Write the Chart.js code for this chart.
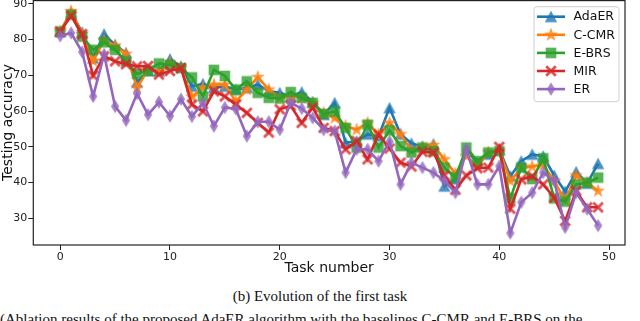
<!DOCTYPE html>
<html>
<head>
<meta charset="utf-8">
<script src="https://cdn.jsdelivr.net/npm/chart.js@4.4.1/dist/chart.umd.min.js"></script>
<style>
  html, body { margin: 0; padding: 0; background: #fff; overflow: hidden; }
  body { width: 640px; height: 321px; position: relative; }
  #accchart { position: absolute; left: 0; top: -10px; }
  .cap { position: absolute; left: 0; width: 640px; text-align: center; font-family: "Liberation Serif", serif; color: #111; white-space: nowrap; }
</style>
</head>
<body>
<canvas id="accchart" width="640" height="287"></canvas>
<div class="cap" style="top: 288px; font-size: 15px;">(b) Evolution of the first task</div>
<div class="cap" style="top: 311px; font-size: 15px; text-align: left; left: 0;">(Ablation results of the proposed AdaER algorithm with the baselines C-CMR and E-BRS on the</div>
<script>
// task index on the x axis
var tasks = [0, 1, 2, 3, 4, 5, 6, 7, 8, 9, 10, 11, 12, 13, 14, 15, 16, 17, 18, 19,
    20, 21, 22, 23, 24, 25, 26, 27, 28, 29, 30, 31, 32, 33, 34, 35, 36, 37, 38, 39,
    40, 41, 42, 43, 44, 45, 46, 47, 48, 49];

var adaER = [82.2, 87.5, 82.0, 74.8, 81.5, 78.5, 76.2, 68.0, 71.2, 71.2,
    74.5, 72.5, 66.9, 67.6, 66.5, 66.9, 66.0, 66.5, 67.4, 65.6,
    65.1, 64.1, 65.3, 62.5, 59.0, 62.3, 51.1, 51.6, 53.5, 53.0,
    60.9, 53.5, 51.0, 50.0, 50.7, 39.0, 41.0, 49.0, 45.6, 47.9,
    49.3, 41.8, 46.0, 47.9, 47.4, 42.0, 37.5, 43.0, 39.8, 45.3];
var cCMR = [82.2, 87.9, 81.5, 74.0, 79.8, 78.3, 76.0, 66.5, 71.5, 71.0,
    73.5, 72.0, 64.0, 66.5, 67.4, 67.4, 62.7, 66.0, 69.5, 66.0,
    63.7, 64.1, 63.7, 62.3, 59.5, 58.1, 55.8, 54.8, 56.7, 53.5,
    56.7, 53.5, 49.0, 50.0, 50.5, 46.5, 42.5, 47.5, 44.5, 48.5,
    49.0, 40.5, 44.0, 44.5, 45.0, 40.5, 35.0, 42.0, 40.0, 37.7];
var eBRS = [82.2, 86.9, 80.8, 77.1, 79.2, 77.1, 73.9, 70.4, 71.3, 73.3,
    72.9, 72.0, 69.4, 64.1, 71.5, 69.8, 66.0, 68.3, 65.1, 63.7,
    63.5, 65.3, 63.7, 62.3, 59.2, 59.9, 55.3, 49.8, 56.2, 49.8,
    54.6, 50.2, 48.4, 49.8, 48.8, 44.2, 41.4, 49.8, 46.0, 48.4,
    48.8, 35.6, 44.2, 41.0, 46.8, 35.6, 34.7, 39.5, 40.0, 41.4];
var mir = [82.2, 86.6, 81.5, 69.9, 75.3, 73.9, 73.1, 72.5, 72.6, 70.2,
    71.2, 72.0, 61.8, 59.9, 65.5, 64.1, 61.8, 59.5, 56.7, 54.0,
    60.5, 61.5, 56.7, 61.0, 55.3, 54.4, 49.3, 51.6, 46.5, 53.5,
    49.5, 45.6, 44.5, 48.6, 48.4, 42.0, 38.0, 42.0, 44.0, 44.2,
    50.0, 32.7, 40.9, 41.8, 39.5, 35.8, 29.3, 37.7, 33.1, 33.1];
var er = [81.0, 81.8, 76.5, 64.1, 75.8, 61.3, 57.4, 64.9, 59.0, 62.5,
    58.6, 63.3, 58.5, 62.3, 55.8, 61.0, 60.6, 53.0, 57.0, 57.0,
    54.8, 62.3, 60.7, 58.1, 54.8, 54.4, 42.8, 49.3, 49.3, 46.0,
    51.5, 39.5, 45.6, 44.2, 42.8, 40.5, 37.2, 49.3, 39.5, 39.5,
    44.6, 25.9, 34.5, 37.2, 42.8, 40.5, 27.5, 37.2, 32.6, 28.0];

var xTicks = [0, 10, 20, 30, 40, 50];
var yTicks = [30, 40, 50, 60, 70, 80, 90];

// little canvases used as point markers (matplotlib-like shapes)
function marker(shape, color) {
    var c = document.createElement('canvas');
    c.width = 16; c.height = 16;
    var g = c.getContext('2d');
    g.translate(8, 8);
    g.fillStyle = color;
    g.globalAlpha = 0.8;
    g.beginPath();
    if (shape == 'tri') {
        g.moveTo(0, -6); g.lineTo(6.2, 5.5); g.lineTo(-6.2, 5.5);
    } else if (shape == 'star') {
        for (var i = 0; i < 10; i++) {
            var r = i % 2 ? 2.9 : 7.3;
            var a = -Math.PI / 2 + i * Math.PI / 5;
            g.lineTo(r * Math.cos(a), r * Math.sin(a));
        }
    } else if (shape == 'sq') {
        g.rect(-5.3, -5.3, 10.6, 10.6);
    } else if (shape == 'x') {
        var p = [[0, -2], [3.8, -5.8], [5.8, -3.8], [2, 0], [5.8, 3.8], [3.8, 5.8],
            [0, 2], [-3.8, 5.8], [-5.8, 3.8], [-2, 0], [-5.8, -3.8], [-3.8, -5.8]];
        p.forEach(function (q) { g.lineTo(q[0], q[1]); });
    } else {
        g.moveTo(0, -6.8); g.lineTo(4.2, 0); g.lineTo(0, 6.8); g.lineTo(-4.2, 0);
    }
    g.closePath();
    g.fill();
    return c;
}

var series = [
    {label: 'AdaER', data: adaER, color: '#1f77b4', shape: 'tri'},
    {label: 'C-CMR', data: cCMR, color: '#ff7f0e', shape: 'star'},
    {label: 'E-BRS', data: eBRS, color: '#2ca02c', shape: 'sq'},
    {label: 'MIR', data: mir, color: '#d62728', shape: 'x'},
    {label: 'ER', data: er, color: '#9467bd', shape: 'dia'}
];
series.forEach(function (s) { s.marker = marker(s.shape, s.color); });

var frame = {
    id: 'frame',
    afterDatasetsDraw: function (chart) {
        var a = chart.chartArea, ctx = chart.ctx;
        ctx.save();
        ctx.strokeStyle = '#222';
        ctx.lineWidth = 1.2;
        ctx.strokeRect(a.left, a.top + 0.6, a.right - a.left, a.bottom - a.top - 0.6);
        ctx.restore();
    }
};

var boxLegend = {
    id: 'boxLegend',
    afterDraw: function (chart) {
        var a = chart.chartArea, ctx = chart.ctx;
        var x0 = a.right - 91, y0 = a.top + 6.7, w = 85, h = 95;
        ctx.save();
        ctx.beginPath();
        ctx.roundRect(x0, y0, w, h, 3);
        ctx.fillStyle = 'rgba(255,255,255,0.85)';
        ctx.fill();
        ctx.strokeStyle = '#d0d0d0';
        ctx.lineWidth = 1;
        ctx.stroke();
        series.forEach(function (s, i) {
            var cy = y0 + 10 + i * 18.1;
            ctx.beginPath();
            ctx.moveTo(x0 + 3, cy);
            ctx.lineTo(x0 + 31, cy);
            ctx.strokeStyle = s.color;
            ctx.lineWidth = 2.6;
            ctx.stroke();
            ctx.drawImage(s.marker, x0 + 17 - 8, cy - 8);
            ctx.fillStyle = '#111';
            ctx.font = '12.5px "DejaVu Sans"';
            ctx.textBaseline = 'middle';
            ctx.textAlign = 'left';
            ctx.fillText(s.label, x0 + 39.5, cy + 0.5);
        });
        ctx.restore();
    }
};

var ctx = document.getElementById('accchart').getContext('2d');
var accchart = new Chart(ctx, {
    type: 'line',
    data: {
        datasets: series.map(function (s, i) {
            return {
                label: s.label,
                data: tasks.map(function (t, j) { return {x: t, y: s.data[j]}; }),
                borderColor: s.color,
                backgroundColor: s.color,
                borderWidth: 2.6,
                pointStyle: s.marker,
                pointRadius: 6,
                tension: 0,
                fill: false,
                order: series.length - i
            };
        })
    },
    options: {
        responsive: false,
        animation: false,
        events: [],
        layout: {padding: {top: 10, right: 15, left: 0, bottom: 0}},
        plugins: {legend: {display: false}, tooltip: {enabled: false}},
        scales: {
            x: {
                type: 'linear',
                min: -2.45,
                max: 51.45,
                afterBuildTicks: function (s) { s.ticks = xTicks.map(function (v) { return {value: v}; }); },
                afterFit: function (s) { s.height = 32; },
                grid: {display: true, drawOnChartArea: false, drawTicks: true, tickLength: 5, color: '#222'},
                border: {display: false},
                ticks: {color: '#222', padding: 1, font: {family: 'DejaVu Sans', size: 11}, maxRotation: 0},
                title: {display: true, text: 'Task number', color: '#111', padding: 0,
                    font: {family: 'DejaVu Sans', size: 14}}
            },
            y: {
                min: 22.57,
                max: 91.03,
                afterBuildTicks: function (s) { s.ticks = yTicks.map(function (v) { return {value: v}; }); },
                afterFit: function (s) { s.width = 33.3; },
                grid: {display: true, drawOnChartArea: false, drawTicks: true, tickLength: 5, color: '#222'},
                border: {display: false},
                ticks: {color: '#222', padding: 1, font: {family: 'DejaVu Sans', size: 11}},
                title: {display: true, text: 'Testing accuracy', color: '#111', padding: 0,
                    font: {family: 'DejaVu Sans', size: 14}}
            }
        }
    },
    plugins: [frame, boxLegend]
});
</script>
</body>
</html>
